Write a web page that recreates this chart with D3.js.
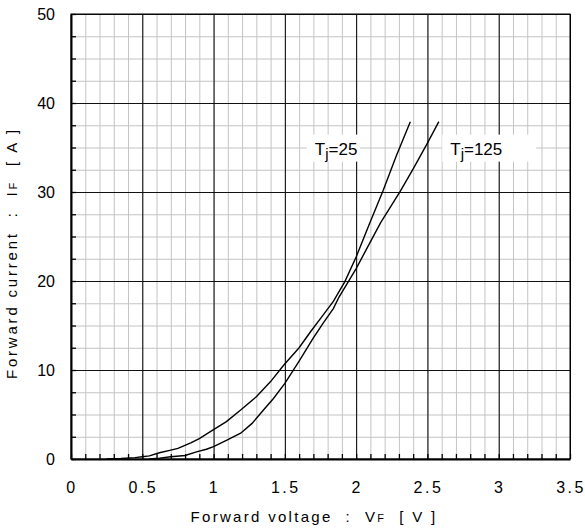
<!DOCTYPE html>
<html>
<head>
<meta charset="utf-8">
<script src="https://cdn.jsdelivr.net/npm/d3@7"></script>
<style>
  body { margin: 0; background: #fff; }
  text { font-family: "Liberation Sans", Arial, sans-serif; fill: #000; }
</style>
</head>
<body>
<div class="chart"></div>
<script>
// Forward characteristics (IF vs VF), two junction temperatures
var vf25 = [0.25, 0.35, 0.45, 0.5, 0.55, 0.62, 0.7, 0.75, 0.84, 0.9, 0.98, 1.09, 1.19, 1.3, 1.4, 1.49, 1.6, 1.68, 1.76, 1.84, 1.92, 2.0, 2.09, 2.19, 2.28, 2.38];
var if25 = [0, 0.05, 0.15, 0.25, 0.35, 0.7, 1.0, 1.2, 1.8, 2.3, 3.1, 4.2, 5.5, 7.0, 8.7, 10.5, 12.5, 14.3, 16.0, 17.7, 19.9, 22.7, 26.3, 30.2, 34.0, 37.9];

var vf125 = [0.55, 0.62, 0.7, 0.8, 0.88, 0.95, 1.0, 1.09, 1.19, 1.27, 1.35, 1.42, 1.5, 1.6, 1.7, 1.77, 1.84, 1.88, 1.94, 2.0, 2.07, 2.17, 2.31, 2.4, 2.5, 2.58];
var if125 = [0, 0.1, 0.25, 0.4, 0.8, 1.1, 1.4, 2.1, 2.9, 4.0, 5.5, 6.8, 8.5, 11.0, 13.6, 15.3, 16.9, 18.2, 19.8, 21.4, 23.5, 26.5, 30.1, 32.6, 35.5, 37.9];

// Tick values
var xMajor = [0, 0.5, 1, 1.5, 2, 2.5, 3, 3.5];
var xMinor = d3.range(0, 36).map(d => d / 10);
var yMajor = [0, 10, 20, 30, 40, 50];
var yMinor = d3.range(0, 21).map(d => d * 2.5);

// Curve labels
var seriesLabels = [
  { t: "T", sub: "j", rest: "=25", v: 1.71, i: 34.2, w: 53 },
  { t: "T", sub: "j", rest: "=125", v: 2.66, i: 34.2, w: 94 }
];

var svgWidth = 585;
var svgHeight = 528;
var margin = { top: 14, right: 15, bottom: 69, left: 71 };
var chartWidth = svgWidth - margin.left - margin.right;
var chartHeight = svgHeight - margin.top - margin.bottom;

var svg = d3.select(".chart")
  .append("svg")
  .attr("width", svgWidth)
  .attr("height", svgHeight);

svg.append("rect").attr("width", svgWidth).attr("height", svgHeight).attr("fill", "#fff");

var chartGroup = svg.append("g")
  .attr("transform", `translate(${margin.left}, ${margin.top})`);

var x = d3.scaleLinear().domain([0, 3.5]).range([0, chartWidth]);
var y = d3.scaleLinear().domain([0, 50]).range([chartHeight, 0]);

// Minor grid
chartGroup.append("g")
  .attr("transform", `translate(0, ${chartHeight})`)
  .call(d3.axisBottom(x).tickValues(xMinor).tickSize(-chartHeight).tickFormat(""))
  .call(g => g.select(".domain").remove())
  .selectAll("line").attr("stroke", "#c4c4c4");

chartGroup.append("g")
  .call(d3.axisLeft(y).tickValues(yMinor).tickSize(-chartWidth).tickFormat(""))
  .call(g => g.select(".domain").remove())
  .selectAll("line").attr("stroke", "#c4c4c4");

// Major grid
chartGroup.append("g")
  .attr("transform", `translate(0, ${chartHeight})`)
  .call(d3.axisBottom(x).tickValues(xMajor).tickSize(-chartHeight).tickFormat(""))
  .call(g => g.select(".domain").remove())
  .selectAll("line").attr("stroke", "#000");

chartGroup.append("g")
  .call(d3.axisLeft(y).tickValues(yMajor).tickSize(-chartWidth).tickFormat(""))
  .call(g => g.select(".domain").remove())
  .selectAll("line").attr("stroke", "#111");

// Label boxes
var labelGroup = chartGroup.selectAll(".tlabel")
  .data(seriesLabels)
  .enter()
  .append("g")
  .attr("class", "tlabel");

labelGroup.append("rect")
  .attr("x", d => x(d.v) - 8)
  .attr("y", d => y(d.i) - 20)
  .attr("width", d => d.w)
  .attr("height", 27)
  .attr("fill", "#fff");

var labelText = labelGroup.append("text")
  .attr("x", d => x(d.v))
  .attr("y", d => y(d.i))
  .style("font-size", "17px");
labelText.append("tspan").text(d => d.t);
labelText.append("tspan").attr("dy", 4).style("font-size", "15px").text(d => d.sub);
labelText.append("tspan").attr("dy", -4).text(d => d.rest);

// Curves
var line = d3.line()
  .x(d => x(d[0]))
  .y(d => y(d[1]));

[[vf25, if25], [vf125, if125]].forEach(function (s) {
  chartGroup.append("path")
    .datum(d3.zip(s[0], s[1]))
    .attr("fill", "none")
    .attr("stroke", "#000")
    .attr("stroke-width", 1.4)
    .attr("d", line);
});

// Frame: top and right thin, left and bottom heavier
chartGroup.append("rect")
  .attr("width", chartWidth)
  .attr("height", chartHeight)
  .attr("fill", "none")
  .attr("stroke", "#000")
  .attr("stroke-width", 1);

// Bottom and left axes with inner minor ticks
var bottomAxis = chartGroup.append("g")
  .attr("transform", `translate(0, ${chartHeight})`)
  .call(d3.axisBottom(x).tickValues(xMinor).tickSize(-5).tickSizeOuter(0).tickFormat(""));
bottomAxis.select(".domain").attr("stroke-width", 2);
bottomAxis.selectAll("line").attr("stroke-width", 1.3);

var leftAxis = chartGroup.append("g")
  .call(d3.axisLeft(y).tickValues(yMinor).tickSize(-5).tickSizeOuter(0).tickFormat(""));
leftAxis.select(".domain").attr("stroke-width", 2);
leftAxis.selectAll("line").attr("stroke-width", 1.3);

// Tick labels
chartGroup.append("g")
  .selectAll("text")
  .data(xMajor)
  .enter()
  .append("text")
  .attr("x", d => x(d) + 1)
  .attr("y", chartHeight + 34)
  .attr("text-anchor", "middle")
  .style("font-size", "16px")
  .style("letter-spacing", "2.5px")
  .text(d => d);

chartGroup.append("g")
  .selectAll("text")
  .data(yMajor)
  .enter()
  .append("text")
  .attr("x", -16)
  .attr("y", d => y(d) + 6)
  .attr("text-anchor", "end")
  .style("font-size", "16px")
  .text(d => d);

// Axis titles
var xTitle = svg.append("text")
  .attr("x", 314)
  .attr("y", 522)
  .attr("text-anchor", "middle")
  .style("font-size", "15px")
  .style("letter-spacing", "2.3px")
  .style("white-space", "pre");
xTitle.append("tspan").text("Forward voltage  :  V");
xTitle.append("tspan").style("font-size", "11px").text("F");
xTitle.append("tspan").text("  [ V ]");

var yTitle = svg.append("text")
  .attr("transform", "translate(17, 253) rotate(-90)")
  .attr("text-anchor", "middle")
  .style("font-size", "15px")
  .style("letter-spacing", "2.8px")
  .style("white-space", "pre");
yTitle.append("tspan").text("Forward current  :  I");
yTitle.append("tspan").style("font-size", "11px").text("F");
yTitle.append("tspan").text("  [ A ]");
</script>
</body>
</html>
